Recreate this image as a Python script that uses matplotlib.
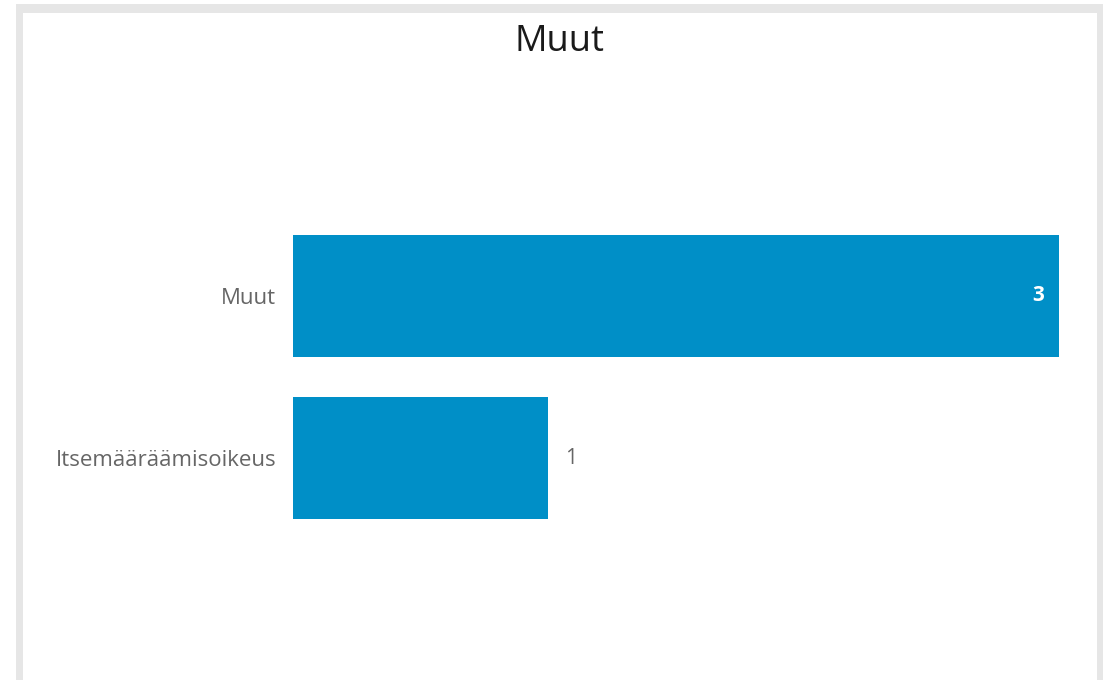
import matplotlib.pyplot as plt
from matplotlib.patches import Rectangle

plt.rcParams['font.family'] = ['Open Sans', 'DejaVu Sans']

categories = ["Itsemääräämisoikeus", "Muut"]
values = [1, 3]
title = "Muut"
bar_color = "#008FC7"

W, H = 1106, 680
fig = plt.figure(figsize=(W / 100, H / 100), dpi=100)

# card frame, drawn behind the axes
fig.patches.append(Rectangle((16 / W, 0), (1103 - 16) / W, (H - 4) / H,
                             transform=fig.transFigure, facecolor="#e6e6e6",
                             edgecolor="none", zorder=-2))
fig.patches.append(Rectangle((23 / W, 0), (1097 - 23) / W, (H - 13) / H,
                             transform=fig.transFigure, facecolor="white",
                             edgecolor="none", zorder=-1))

ax = fig.add_axes([293 / W, 0, 766 / W, 600 / H])
ax.patch.set_alpha(0)
ypos = list(range(len(categories)))
ax.barh(ypos, values, height=0.753, color=bar_color)
ax.set_xlim(0, max(values))
ax.set_ylim(-1.370, 2.333)
ax.set_yticks(ypos)
ax.set_yticklabels(categories, fontsize=16, color="#666666")
ax.tick_params(axis="y", length=0, pad=12)
ax.set_xticks([])
for s in ax.spines.values():
    s.set_visible(False)

for y, v in zip(ypos, values):
    if v / max(values) > 0.5:
        ax.text(v - 0.06, y, str(v), ha="right", va="center", color="white",
                fontsize=15, fontweight="bold")
    else:
        ax.text(v + 0.065, y, str(v), ha="left", va="center", color="#666666",
                fontsize=15)

fig.text(560 / W, 1 - 42 / H, title, ha="center", va="center", fontsize=26,
         color="#1a1a1a")

fig.savefig("out.png", dpi=100)
